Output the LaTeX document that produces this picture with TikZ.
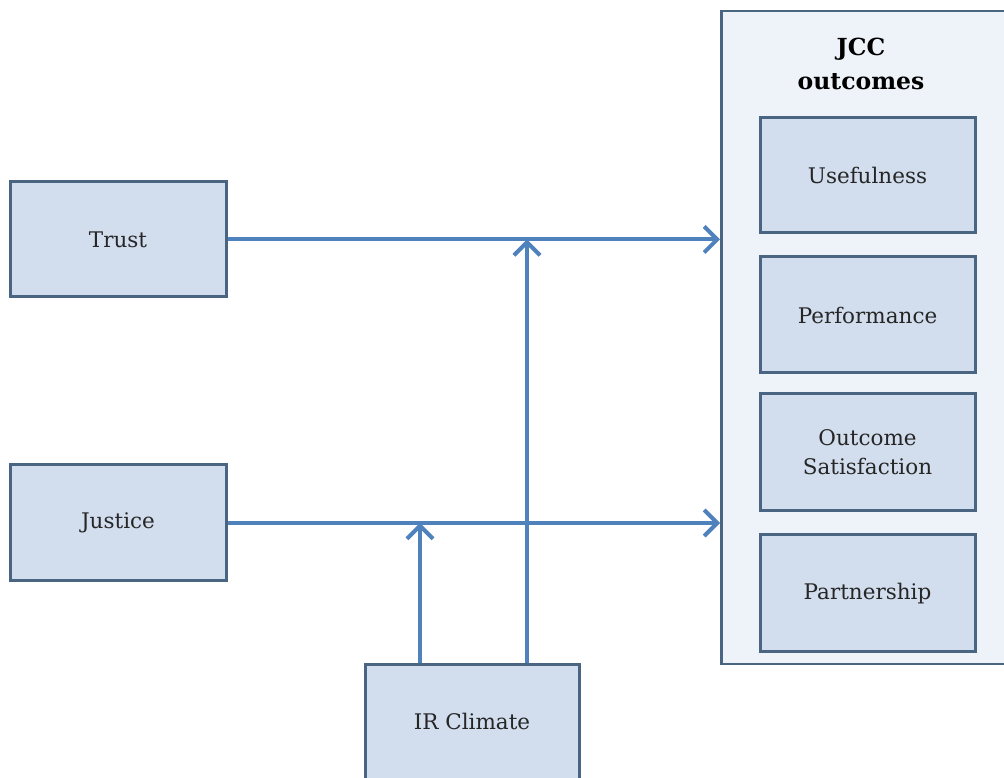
\documentclass[tikz,border=0pt]{standalone}
\usepackage{fontspec}
\setmainfont{DejaVu Serif}
\usetikzlibrary{arrows.meta}
\definecolor{boxfill}{HTML}{D2DEEE}
\definecolor{boxline}{HTML}{4A6582}
\definecolor{outerfill}{HTML}{EEF3FA}
\definecolor{arrowcol}{HTML}{4F81BD}
\tikzset{
  x=1pt,y=1pt,
  factorbox/.style={draw=boxline, line width=3pt, fill=boxfill, rectangle, inner sep=0pt, font=\fontsize{21.5}{27}\selectfont, text=black!85, align=center},
  outerbox/.style={draw=boxline, line width=2.5pt, fill=outerfill, rectangle, inner sep=0pt},
  link/.style={draw=arrowcol, line width=4pt, -{Straight Barb[length=13pt,width=26pt,line width=4pt]}},
}
\begin{document}
\begin{tikzpicture}
\useasboundingbox (0,0) rectangle (1004,778);
\clip (0,0) rectangle (1004,778);
% outer JCC box
\node[outerbox, minimum width=300pt, minimum height=653pt, anchor=north west] (jcc) at (720,768) {};
\node[font=\bfseries\fontsize{23.5}{34}\selectfont, align=center] (jcctitle) at (861,714) {JCC\\outcomes};
% inner boxes
\node[factorbox, minimum width=215pt, minimum height=115pt] (use) at (867.5,602.5) {Usefulness};
\node[factorbox, minimum width=215pt, minimum height=116pt] (perf) at (867.5,463) {Performance};
\node[factorbox, minimum width=215pt, minimum height=117pt] (osat) at (867.5,325.5) {Outcome\\[2pt]Satisfaction};
\node[factorbox, minimum width=215pt, minimum height=117pt] (part) at (867.5,184.5) {Partnership};
% left boxes
\node[factorbox, minimum width=216pt, minimum height=115pt] (trust) at (118,538.5) {Trust};
\node[factorbox, minimum width=216pt, minimum height=116pt] (justice) at (118,255) {Justice};
\node[factorbox, minimum width=214pt, minimum height=130pt, anchor=north] (ir) at (472,115) {};
\node[font=\fontsize{21.5}{27}\selectfont, text=black!85] (irtext) at (472,57) {IR Climate};
% connectors
\coordinate (trustend) at (jcc.west |- trust.east);
\coordinate (justend) at (jcc.west |- justice.east);
\draw[link] (trust.east) -- (trustend);
\draw[link] (justice.east) -- (justend);
\coordinate (irA) at (527,115);
\coordinate (irB) at (420,115);
\draw[link] (irA) -- (irA |- trust.east);
\draw[link] (irB) -- (irB |- justice.east);
\end{tikzpicture}
\end{document}
